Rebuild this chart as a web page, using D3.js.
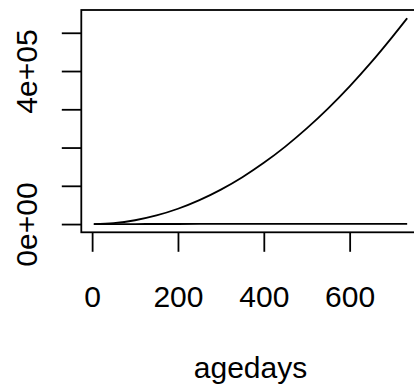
<!DOCTYPE html>
<html>
<head>
<meta charset="utf-8">
<script src="https://cdn.jsdelivr.net/npm/d3@7"></script>
<style>
  html, body { margin: 0; padding: 0; background: #fff; }
  svg { display: block; }
  text { font-family: "Liberation Sans", Arial, sans-serif; fill: #000; }
</style>
</head>
<body>
<script>
// ---- data ----
const agedays   = [4, 50, 100, 150, 200, 250, 300, 350, 400, 450, 500, 550, 600, 650, 700, 734];
const curveVals = [16, 2500, 10000, 22500, 40000, 62500, 90000, 122500, 160000, 202500, 250000, 302500, 360000, 422500, 490000, 538000];
const flatVals  = [4, 50, 100, 150, 200, 250, 300, 350, 400, 450, 500, 550, 600, 650, 700, 734];
const xTicks = [0, 200, 400, 600];
const yTicks = [0, 100000, 200000, 300000, 400000, 500000];
const yTickLabels = {0: "0e+00", 400000: "4e+05"};
const xLabel = "agedays";

const W = 414, H = 387;
const FS = 30;
const SW = 1.8;
const svg = d3.select("body").append("svg").attr("width", W).attr("height", H);

// R-style 4% padded limits
function rlim(vals) {
  const lo = d3.min(vals), hi = d3.max(vals), r = hi - lo;
  return [lo - 0.04 * r, hi + 0.04 * r];
}
const plot = {left: 81.3, right: 419.7, top: 10, bottom: 232.3};

const x = d3.scaleLinear().domain(rlim(agedays)).range([plot.left, plot.right]);
const y = d3.scaleLinear().domain(rlim(curveVals.concat(flatVals))).range([plot.bottom, plot.top]);

// box
svg.append("rect")
  .attr("x", plot.left).attr("y", plot.top)
  .attr("width", plot.right - plot.left).attr("height", plot.bottom - plot.top)
  .attr("fill", "none").attr("stroke", "#000").attr("stroke-width", SW);

// lines
const line = d3.line().x(d => x(d[0])).y(d => y(d[1])).curve(d3.curveMonotoneX);
svg.append("path").datum(agedays.map((a, i) => [a, curveVals[i]]))
  .attr("d", line).attr("fill", "none").attr("stroke", "#000").attr("stroke-width", SW);
svg.append("path").datum(agedays.map((a, i) => [a, flatVals[i]]))
  .attr("d", line).attr("fill", "none").attr("stroke", "#000").attr("stroke-width", SW);

// x axis
const xAxis = d3.axisBottom(x).tickValues(xTicks).tickSize(19.5).tickFormat(d3.format("d"));
const gx = svg.append("g").attr("transform", `translate(0,${plot.bottom})`).call(xAxis);
gx.select(".domain").remove();
gx.selectAll(".tick line").attr("stroke", "#000").attr("stroke-width", SW);
gx.selectAll(".tick text")
  .attr("font-size", FS).attr("font-family", "Liberation Sans, Arial, sans-serif").attr("fill", "#000")
  .attr("y", 307 - plot.bottom).attr("dy", null);

// y axis
const yAxis = d3.axisLeft(y).tickValues(yTicks).tickSize(19.5).tickFormat(d => yTickLabels[d] || "");
const gy = svg.append("g").attr("transform", `translate(${plot.left},0)`).call(yAxis);
gy.select(".domain").remove();
gy.selectAll(".tick line").attr("stroke", "#000").attr("stroke-width", SW);
gy.selectAll(".tick text")
  .attr("font-size", FS).attr("font-family", "Liberation Sans, Arial, sans-serif").attr("fill", "#000")
  .attr("text-anchor", "middle").attr("x", 0).attr("y", 0).attr("dy", null)
  .attr("transform", `translate(${37 - plot.left},0) rotate(-90)`);

// x label
svg.append("text").attr("x", (plot.left + plot.right) / 2).attr("y", 378)
  .attr("text-anchor", "middle").attr("font-size", FS).text(xLabel);
</script>
</body>
</html>
